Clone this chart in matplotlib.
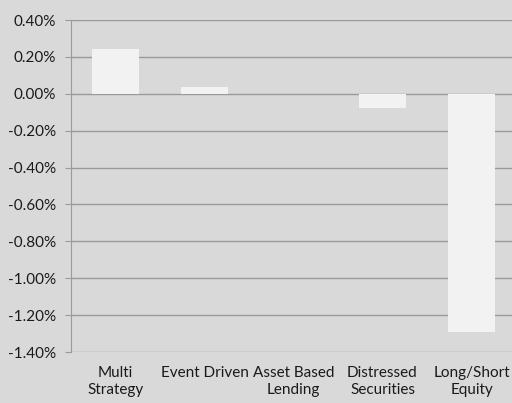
import matplotlib
matplotlib.use("Agg")
import matplotlib.pyplot as plt
from matplotlib.ticker import FuncFormatter

strategies = ["Multi\nStrategy", "Event Driven", "Asset Based\nLending",
              "Distressed\nSecurities", "Long/Short\nEquity"]
returns_pct = [0.243, 0.038, 0.0, -0.075, -1.29]
y_ticks = [0.4, 0.2, 0.0, -0.2, -0.4, -0.6, -0.8, -1.0, -1.2, -1.4]

BG = "#d9d9d9"
GRID = "#9a9a9a"

plt.rcParams["font.family"] = ["Lato", "DejaVu Sans"]

fig = plt.figure(figsize=(5.12, 4.03), dpi=100, facecolor=BG)
ax = fig.add_axes([71 / 512, 1 - 352 / 403, 445 / 512, 332 / 403])
ax.set_facecolor(BG)

x = range(len(strategies))
ax.bar(x, returns_pct, width=0.52, color="#f2f2f2", zorder=3)

ax.set_xlim(-0.5, len(strategies) - 0.5)
ax.set_ylim(-1.4, 0.4)
ax.set_yticks(y_ticks)
ax.yaxis.set_major_formatter(FuncFormatter(lambda v, _: f"{v:.2f}%"))
ax.set_xticks(list(x))
ax.set_xticklabels(strategies, fontsize=11, color="#1a1a1a", linespacing=1.3)

ax.grid(axis="y", color=GRID, lw=1, zorder=1)
for s in ("top", "right", "bottom"):
    ax.spines[s].set_visible(False)
ax.spines["left"].set_color(GRID)
ax.tick_params(axis="x", length=0, pad=10)
ax.tick_params(axis="y", length=4, color=GRID, pad=7, labelsize=11, labelcolor="#1a1a1a")

fig.savefig("out.png", dpi=100, facecolor=BG)
plt.close(fig)
